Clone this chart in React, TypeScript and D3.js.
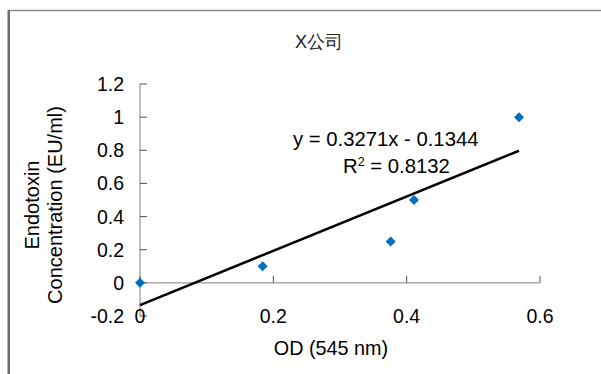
import React from "react";
import * as d3 from "d3";

const title = "X公司";
const odValues = [0, 0.184, 0.376, 0.411, 0.5685];
const endotoxinValues = [0, 0.1, 0.25, 0.5, 1.0];
const xTicks = [0, 0.2, 0.4, 0.6];
const yTicks = [-0.2, 0, 0.2, 0.4, 0.6, 0.8, 1, 1.2];
const xAxisTitle = "OD (545 nm)";
const yAxisTitleLines = ["Endotoxin", "Concentration (EU/ml)"];
const equationText = "y = 0.3271x - 0.1344";
const r2Value = " = 0.8132";

const W = 601;
const H = 374;
const FONT = "'Liberation Sans', Arial, sans-serif";

export default function App() {
  const x = d3.scaleLinear().domain([0, 0.6]).range([140, 540]);
  const y = d3.scaleLinear().domain([-0.2, 1.2]).range([316, 84]);

  // least-squares trendline from the data
  const mx = d3.mean(odValues)!;
  const my = d3.mean(endotoxinValues)!;
  let sxy = 0, sxx = 0;
  odValues.forEach((v, i) => {
    sxy += (v - mx) * (endotoxinValues[i] - my);
    sxx += (v - mx) * (v - mx);
  });
  const slope = sxy / sxx;
  const intercept = my - slope * mx;
  const xMax = d3.max(odValues)!;
  const line = d3.line<number>().x((d) => x(d)).y((d) => y(intercept + slope * d));
  const diamond = d3.symbol().type(d3.symbolDiamond2).size(64)()!;

  return (
    <svg width={W} height={H} style={{ position: "absolute", left: 0, top: 0 }} fontFamily={FONT}>
      <rect x={0} y={0} width={W} height={H} fill="#fff" />
      {/* outer chart frame */}
      <line x1={8} y1={10.5} x2={W} y2={10.5} stroke="#8c8c8c" strokeWidth={1.5} />
      <line x1={8.75} y1={10} x2={8.75} y2={H} stroke="#6e6e6e" strokeWidth={2.5} />

      <text x={319} y={48} textAnchor="middle" fontSize={18} fill="#222">{title}</text>

      {/* y axis */}
      <line x1={x(0)} y1={y(1.2)} x2={x(0)} y2={y(-0.2)} stroke="#808080" strokeWidth={1} />
      {yTicks.map((t) => (
        <g key={"yt" + t}>
          <line x1={x(0)} x2={x(0) + 7} y1={y(t)} y2={y(t)} stroke="#555" strokeWidth={1} />
          <text x={124} y={y(t)} dy="0.36em" textAnchor="end" fontSize={19.5} fill="#000">
            {t}
          </text>
        </g>
      ))}

      {/* x axis at y=0 */}
      <line x1={x(0)} y1={y(0)} x2={x(0.6)} y2={y(0)} stroke="#808080" strokeWidth={1} />
      {xTicks.map((t) => (
        <g key={"xt" + t}>
          <line x1={x(t)} x2={x(t)} y1={y(0)} y2={y(0) - 7} stroke="#555" strokeWidth={1} />
          <text x={x(t)} y={y(-0.2)} dy="0.36em" textAnchor="middle" fontSize={19.5} fill="#000">
            {t}
          </text>
        </g>
      ))}

      {/* trendline */}
      <path d={line([0, xMax])!} stroke="#000" strokeWidth={2.5} fill="none" />

      {/* points */}
      {odValues.map((v, i) => (
        <path key={"p" + i} d={diamond} transform={`translate(${x(v)},${y(endotoxinValues[i])})`} fill="#0070C0" />
      ))}

      {/* equation */}
      <text x={293} y={146} fontSize={20.3} fill="#000">{equationText}</text>
      <text x={343} y={173} fontSize={20.3} fill="#000">
        R<tspan dy={-7} fontSize={12.5}>2</tspan>
        <tspan dy={7}>{r2Value}</tspan>
      </text>

      {/* axis titles */}
      <text x={331} y={355} textAnchor="middle" fontSize={19.8} fill="#000">{xAxisTitle}</text>
      {yAxisTitleLines.map((s, i) => (
        <text
          key={"yl" + i}
          transform={`translate(${39 + i * 23},205) rotate(-90)`}
          textAnchor="middle"
          fontSize={20}
          fill="#000"
        >
          {s}
        </text>
      ))}
    </svg>
  );
}
